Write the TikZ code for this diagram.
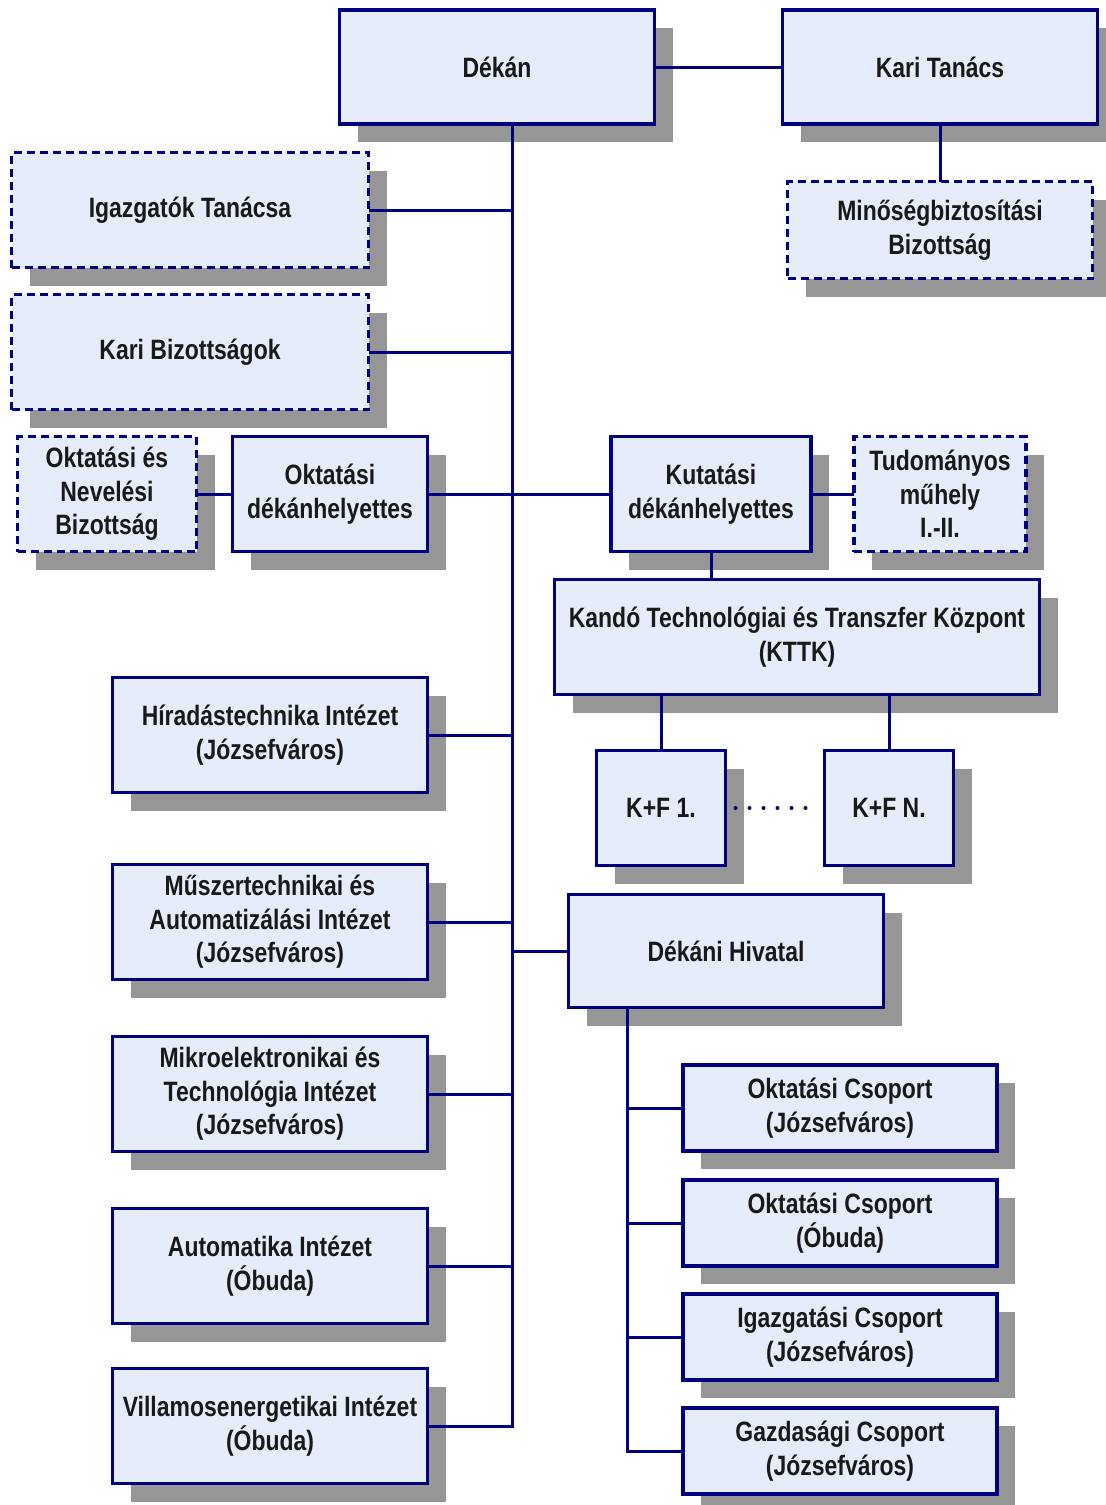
\documentclass[tikz,border=0pt]{standalone}
\usepackage{fontspec}
\setmainfont{Liberation Sans}[FakeStretch=0.82]
\usepackage{tikz}
\usetikzlibrary{positioning, calc, shadows}
\definecolor{orgnavy}{RGB}{0,0,128}
\definecolor{orgfill}{RGB}{230,236,249}
\definecolor{orgshadow}{RGB}{150,150,150}
\definecolor{orgtext}{RGB}{25,25,25}

\begin{document}
\begin{tikzpicture}[x=0.5pt, y=-0.5pt,
  font=\fontsize{14}{16.8}\selectfont\bfseries, text=orgtext,
  unitbox/.style={draw=orgnavy, fill=orgfill, line width=1.75pt, align=center,
    inner sep=0pt, outer sep=0pt, minimum width=157.5pt, minimum height=57.5pt,
    drop shadow={shadow xshift=9pt, shadow yshift=-9pt, fill=orgshadow, opacity=1}},
  commbox/.style={unitbox, dash pattern=on 4pt off 2.5pt},
  grpbox/.style={unitbox, minimum width=157pt, minimum height=43pt},
  link/.style={draw=orgnavy, line width=1.5pt}]
  \useasboundingbox (0,0) rectangle (1105,1505);
  % Top level
  \node[unitbox, minimum height=57pt] (dekan) at (497,67) {Dékán};
  \node[unitbox, minimum height=57pt] (karitan) at (940,67) {Kari Tanács};
  \node[commbox, minimum width=152.5pt, minimum height=48.5pt] (minoseg) at (940,230) {Minőségbiztosítási\\Bizottság};
  % Councils on the left
  \node[commbox, minimum width=178.5pt] (igtan) at (190,210) {Igazgatók Tanácsa};
  \node[commbox, minimum width=178.5pt] (karibiz) at (190,352) {Kari Bizottságok};
  % Vice deans
  \node[commbox, minimum width=89.5pt] (onb) at (107,494) {Oktatási és\\Nevelési\\Bizottság};
  \node[unitbox, minimum width=97.5pt] (oktdh) at (330,494) {Oktatási\\dékánhelyettes};
  \node[unitbox, minimum width=100pt] (kutdh) at (711,494) {Kutatási\\dékánhelyettes};
  \node[commbox, minimum width=86pt] (tudmuh) at (940,494) {Tudományos\\műhely\\I.-II.};
  % Research centre
  \node[unitbox, minimum width=242.5pt] (kttk) at (797,637) {Kandó Technológiai és Transzfer Központ\\(KTTK)};
  \node[unitbox, minimum width=64.5pt] (kfone) at (661,808) {K+F 1.};
  \node[unitbox, minimum width=64.5pt] (kfn) at (889,808) {K+F N.};
  % Institutes
  \node[unitbox] (hirad) at (270,735) {Híradástechnika Intézet\\(Józsefváros)};
  \node[unitbox] (muszer) at (270,922) {Műszertechnikai és\\Automatizálási Intézet\\(Józsefváros)};
  \node[unitbox] (mikro) at (270,1094) {Mikroelektronikai és\\Technológia Intézet\\(Józsefváros)};
  \node[unitbox] (auto) at (270,1266) {Automatika Intézet\\(Óbuda)};
  \node[unitbox] (villen) at (270,1426) {Villamosenergetikai Intézet\\(Óbuda)};
  % Dean's office
  \node[unitbox, minimum height=56.5pt] (dekhiv) at (726,951) {Dékáni Hivatal};
  \node[grpbox] (grpokj) at (840,1108) {Oktatási Csoport\\(Józsefváros)};
  \node[grpbox] (grpoko) at (840,1223) {Oktatási Csoport\\(Óbuda)};
  \node[grpbox] (grpig) at (840,1337) {Igazgatási Csoport\\(Józsefváros)};
  \node[grpbox] (grpgaz) at (840,1451) {Gazdasági Csoport\\(Józsefváros)};
  \coordinate (spineend) at (512,1426);
  \coordinate (dhend) at (627,1451);
  % Connectors
  \path[link] (dekan.east) -- (karitan.west);
  \path[link] (karitan.south) -- (minoseg.north);
  \path[link] (dekan.south -| spineend) -- (spineend) -- (villen.east);
  \path[link] (igtan.east) -- (igtan.east -| spineend);
  \path[link] (karibiz.east) -- (karibiz.east -| spineend);
  \path[link] (onb.east) -- (oktdh.west);
  \path[link] (oktdh.east) -- (kutdh.west);
  \path[link] (kutdh.east) -- (tudmuh.west);
  \path[link] (kutdh.south) -- (kutdh.south |- kttk.north);
  \path[link] (kttk.south -| kfone) -- (kfone.north);
  \path[link] (kttk.south -| kfn) -- (kfn.north);
  \draw[orgnavy!80!black, line width=2pt, line cap=round, dash pattern=on 0pt off 7pt, shorten <=5pt, shorten >=4pt] (kfone.east) -- (kfn.west);
  \path[link] (hirad.east) -- (hirad.east -| spineend);
  \path[link] (muszer.east) -- (muszer.east -| spineend);
  \path[link] (mikro.east) -- (mikro.east -| spineend);
  \path[link] (auto.east) -- (auto.east -| spineend);
  \path[link] (dekhiv.west -| spineend) -- (dekhiv.west);
  \path[link] (dekhiv.south -| dhend) -- (dhend) -- (grpgaz.west);
  \path[link] (grpokj.west -| dhend) -- (grpokj.west);
  \path[link] (grpoko.west -| dhend) -- (grpoko.west);
  \path[link] (grpig.west -| dhend) -- (grpig.west);
\end{tikzpicture}
\end{document}
